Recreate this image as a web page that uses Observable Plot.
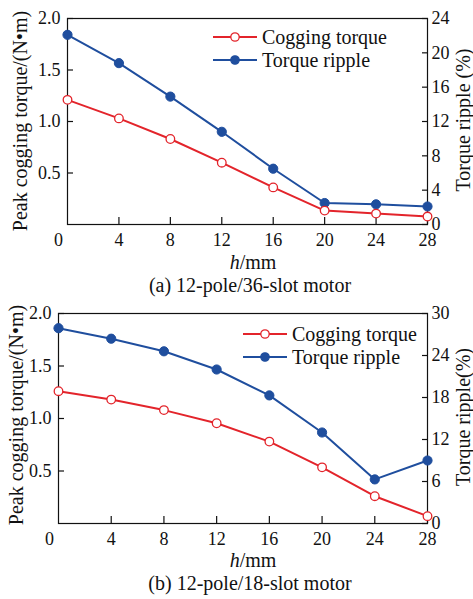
<!DOCTYPE html>
<html><head><meta charset="utf-8">
<script src="https://cdn.jsdelivr.net/npm/d3@7"></script>
<script src="https://cdn.jsdelivr.net/npm/@observablehq/plot@0.6"></script>
<style>
body{margin:0;background:#fff;}
#fig{position:relative;width:473px;height:599px;font-family:'Liberation Serif','DejaVu Serif',serif;color:#111;overflow:hidden;}
.abs{position:absolute;white-space:nowrap;font-size:20px;line-height:1;transform:translate(-50%,-50%);}
.rot{transform:translate(-50%,-50%) rotate(-90deg);}
.leg{position:absolute;font-size:20px;line-height:1;white-space:nowrap;}
.leg div{display:flex;align-items:center;height:23px;}
.leg svg{margin-right:5px;}
svg.plot{position:absolute;left:0;}
</style></head><body><div id="fig"></div>
<script>
// h (mm)
const hValues = [0, 4, 8, 12, 16, 20, 24, 28];
// (a) 12-pole/36-slot
const cogA = [1.21, 1.03, 0.83, 0.60, 0.36, 0.135, 0.106, 0.077];
const rippleA = [22.1, 18.8, 14.9, 10.8, 6.5, 2.5, 2.35, 2.1];
// (b) 12-pole/18-slot
const cogB = [1.26, 1.18, 1.08, 0.955, 0.78, 0.535, 0.26, 0.07];
const rippleB = [27.9, 26.4, 24.6, 22.0, 18.3, 13.0, 6.3, 9.0];

const xTicks = [4, 8, 12, 16, 20, 24, 28];
const leftTicks = [0.5, 1.0, 1.5, 2.0];
const rightTicksA = [0, 4, 8, 12, 16, 20, 24];
const rightTicksB = [0, 6, 12, 18, 24, 30];
const seriesNames = ["Cogging torque", "Torque ripple"];
const RED = "#e3242b", BLUE = "#1f4e9e";
const FONT = "'Liberation Serif','DejaVu Serif',serif";

const fig = document.getElementById("fig");

function panel({top, height, marginLeft, marginTop, marginBottom, cog, ripple, rippleMax, rightTicks}) {
  const k = 2 / rippleMax;
  const rows = hValues.map((h, i) => ({h, cog: cog[i], rip: ripple[i] * k}));
  const chart = Plot.plot({
    width: 473, height, marginLeft, marginRight: 46, marginTop, marginBottom,
    style: {fontFamily: FONT, fontSize: "18px", background: "transparent", color: "#111", overflow: "visible"},
    x: {domain: [0, 28], label: null},
    y: {domain: [0, 2], label: null},
    marks: [
      Plot.frame({stroke: "#111", strokeWidth: 1.2}),
      Plot.axisX(xTicks, {tickSize: -7, tickFormat: () => "", label: null, strokeWidth: 1.2}),
      Plot.axisX(xTicks, {tickSize: 0, tickPadding: 9, label: null, fontSize: 18, fontFamily: FONT}),
      Plot.text([0], {x: d => d, frameAnchor: "bottom", lineAnchor: "top", dy: 9, dx: -9, text: () => "0", fontSize: 18, fontFamily: FONT}),
      Plot.axisY(leftTicks, {tickSize: -6, tickFormat: () => "", label: null, strokeWidth: 1.2}),
      Plot.axisY(leftTicks, {tickSize: 0, tickPadding: 7, tickFormat: d3.format(".1f"), label: null, fontSize: 18, fontFamily: FONT}),
      Plot.axisY(rightTicks.map(v => v * k), {anchor: "right", tickSize: -6, tickFormat: () => "", label: null, strokeWidth: 1.2}),
      Plot.axisY(rightTicks.map(v => v * k), {anchor: "right", tickSize: 0, tickPadding: 4, tickFormat: d => String(Math.round(d / k)), label: null, fontSize: 18, fontFamily: FONT}),
      Plot.line(rows, {x: "h", y: "rip", stroke: BLUE, strokeWidth: 2}),
      Plot.dot(rows, {x: "h", y: "rip", r: 4.6, fill: BLUE, stroke: BLUE, strokeWidth: 1}),
      Plot.line(rows, {x: "h", y: "cog", stroke: RED, strokeWidth: 2}),
      Plot.dot(rows, {x: "h", y: "cog", r: 4.3, fill: "white", stroke: RED, strokeWidth: 1.3})
    ]
  });
  chart.style.top = top + "px";
  fig.appendChild(chart);
}

function label(text, x, y, rot, html) {
  const d = document.createElement("div");
  d.className = "abs" + (rot ? " rot" : "");
  d.style.left = x + "px"; d.style.top = y + "px";
  if (html) d.innerHTML = html; else d.textContent = text;
  fig.appendChild(d);
}

function legend(x, y) {
  const L = document.createElement("div");
  L.className = "leg";
  L.style.left = x + "px"; L.style.top = (y - 11.5) + "px";
  const items = [[seriesNames[0], RED, "white"], [seriesNames[1], BLUE, BLUE]];
  for (const [name, c, f] of items) {
    const row = document.createElement("div");
    row.innerHTML = `<svg width="44" height="12"><line x1="0" y1="6" x2="44" y2="6" stroke="${c}" stroke-width="2"/><circle cx="22" cy="6" r="4.2" fill="${f}" stroke="${c}" stroke-width="1.3"/></svg><span>${name}</span>`;
    L.appendChild(row);
  }
  fig.appendChild(L);
}

panel({top: 0, height: 290, marginLeft: 67, marginTop: 18, marginBottom: 66, cog: cogA, ripple: rippleA, rippleMax: 24, rightTicks: rightTicksA});
panel({top: 290, height: 309, marginLeft: 58, marginTop: 23, marginBottom: 76, cog: cogB, ripple: rippleB, rippleMax: 30, rightTicks: rightTicksB});

label("Peak cogging torque/(N\u2022m)", 20, 121, true);
label("Torque ripple (%)", 463, 120, true);
label("", 253, 262, false, "<i>h</i>/mm");
label("(a) 12-pole/36-slot motor", 250, 285, false);
legend(213, 37);

label("Peak cogging torque/(N\u2022m)", 16, 415, true);
label("Torque ripple(%)", 463, 417, true);
label("", 253, 560, false, "<i>h</i>/mm");
label("(b) 12-pole/18-slot motor", 250, 583, false);
legend(243, 334);
</script></body></html>
